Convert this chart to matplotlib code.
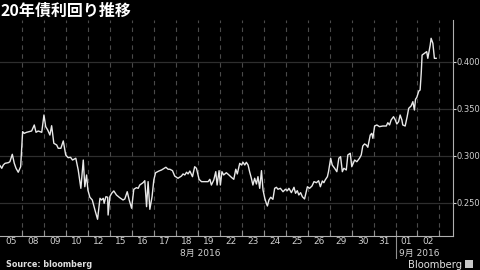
import numpy as np
import matplotlib
matplotlib.use("Agg")
import matplotlib.pyplot as plt
from matplotlib.patches import Rectangle

plt.rcParams['font.family'] = ['DejaVu Sans', 'Noto Sans CJK JP']

# trading days shown on the axis
day_labels = ['05', '08', '09', '10', '12', '15', '16', '17', '18', '19',
              '22', '23', '24', '25', '26', '29', '30', '31', '01', '02']
month_labels = ['8月 2016', '9月 2016']
month_start = [0, 18]

# position in trading days (0 = start of Aug 05) and yield (%)
t = [0.00, 0.08, 0.15, 0.23, 0.38, 0.45, 0.56, 0.65, 0.73, 0.83, 0.94, 1.03, 1.10, 1.21,
     1.44, 1.56, 1.64, 1.74, 1.90, 2.00, 2.08, 2.17, 2.27, 2.35, 2.45, 2.58, 2.65, 2.77,
     2.88, 2.99, 3.10, 3.21, 3.30, 3.45, 3.56, 3.68, 3.79, 3.86, 3.94, 4.00, 4.09, 4.20,
     4.32, 4.44, 4.55, 4.62, 4.70, 4.74, 4.82, 4.90, 4.92, 5.00, 5.08, 5.18, 5.30, 5.45,
     5.60, 5.68, 5.79, 5.88, 5.99, 6.09, 6.21, 6.29, 6.36, 6.51, 6.59, 6.67, 6.74, 6.82,
     6.92, 7.00, 7.08, 7.23, 7.35, 7.55, 7.65, 7.73, 7.85, 7.95, 8.10, 8.26, 8.33, 8.41,
     8.49, 8.56, 8.64, 8.76, 8.86, 8.94, 9.06, 9.17, 9.32, 9.47, 9.55, 9.62, 9.73, 9.82,
     9.88, 9.97, 10.03, 10.10, 10.18, 10.30, 10.42, 10.53, 10.64, 10.73, 10.80, 10.91,
     10.99, 11.06, 11.14, 11.21, 11.29, 11.36, 11.44, 11.51, 11.59, 11.67, 11.74, 11.82,
     11.90, 11.97, 12.05, 12.12, 12.17, 12.24, 12.32, 12.42, 12.50, 12.58, 12.65, 12.76,
     12.88, 12.99, 13.08, 13.15, 13.26, 13.38, 13.45, 13.53, 13.60, 13.68, 13.76, 13.86,
     13.99, 14.09, 14.20, 14.29, 14.40, 14.50, 14.58, 14.67, 14.74, 14.80, 14.90, 14.95,
     15.05, 15.12, 15.23, 15.33, 15.42, 15.50, 15.58, 15.65, 15.76, 15.83, 15.94, 16.01,
     16.14, 16.24, 16.36, 16.44, 16.51, 16.59, 16.67, 16.74, 16.85, 16.92, 16.97, 17.05,
     17.15, 17.27, 17.42, 17.58, 17.65, 17.73, 17.80, 17.91, 17.99, 18.06, 18.14, 18.21,
     18.29, 18.33, 18.44, 18.53, 18.60, 18.71, 18.79, 18.86, 18.91, 18.97, 19.06, 19.12,
     19.17, 19.21, 19.32, 19.42, 19.47, 19.51, 19.58, 19.62, 19.70, 19.77, 19.85]

yld = [0.2897, 0.2869, 0.2904, 0.2922, 0.2929, 0.2939, 0.3018, 0.2922, 0.2869, 0.2827,
       0.2886, 0.3259, 0.3241, 0.3252, 0.3266, 0.3330, 0.3252, 0.3266, 0.3252, 0.3436,
       0.3312, 0.3277, 0.3223, 0.3322, 0.3135, 0.3117, 0.3082, 0.3082, 0.3160, 0.3011,
       0.2982, 0.2986, 0.2957, 0.2976, 0.2851, 0.2656, 0.2957, 0.2673, 0.2798, 0.2638,
       0.2561, 0.2532, 0.2426, 0.2327, 0.2550, 0.2532, 0.2550, 0.2497, 0.2567, 0.2561,
       0.2372, 0.2567, 0.2603, 0.2628, 0.2585, 0.2556, 0.2532, 0.2543, 0.2620, 0.2532,
       0.2444, 0.2646, 0.2663, 0.2656, 0.2691, 0.2716, 0.2737, 0.2461, 0.2727, 0.2433,
       0.2567, 0.2745, 0.2822, 0.2840, 0.2851, 0.2880, 0.2859, 0.2859, 0.2844, 0.2787,
       0.2763, 0.2787, 0.2809, 0.2798, 0.2827, 0.2809, 0.2840, 0.2780, 0.2886, 0.2869,
       0.2752, 0.2727, 0.2727, 0.2727, 0.2752, 0.2691, 0.2745, 0.2833, 0.2691, 0.2844,
       0.2691, 0.2833, 0.2798, 0.2822, 0.2798, 0.2773, 0.2752, 0.2859, 0.2809, 0.2922,
       0.2904, 0.2933, 0.2904, 0.2933, 0.2904, 0.2833, 0.2763, 0.2691, 0.2763, 0.2702,
       0.2780, 0.2656, 0.2844, 0.2638, 0.2550, 0.2497, 0.2468, 0.2532, 0.2561, 0.2539,
       0.2656, 0.2667, 0.2646, 0.2656, 0.2620, 0.2646, 0.2631, 0.2656, 0.2610, 0.2667,
       0.2603, 0.2631, 0.2585, 0.2610, 0.2567, 0.2543, 0.2673, 0.2656, 0.2681, 0.2727,
       0.2716, 0.2737, 0.2673, 0.2734, 0.2716, 0.2745, 0.2780, 0.2833, 0.2976, 0.2904,
       0.2869, 0.2833, 0.2976, 0.2993, 0.2833, 0.2869, 0.2851, 0.3011, 0.3029, 0.2886,
       0.2957, 0.2939, 0.2976, 0.3011, 0.3106, 0.3128, 0.3117, 0.3093, 0.3223, 0.3241,
       0.3188, 0.3319, 0.3330, 0.3312, 0.3319, 0.3319, 0.3354, 0.3330, 0.3383, 0.3418,
       0.3383, 0.3340, 0.3365, 0.3436, 0.3383, 0.3330, 0.3319, 0.3418, 0.3507, 0.3532,
       0.3578, 0.3489, 0.3603, 0.3624, 0.3691, 0.3702, 0.3880, 0.4074, 0.4093, 0.4110,
       0.4039, 0.4093, 0.4181, 0.4252, 0.4199, 0.4039, 0.4039]

y_ticks = [0.250, 0.300, 0.350, 0.400]

fig = plt.figure(figsize=(4.8, 2.7), dpi=100, facecolor='black')
ax = fig.add_axes([0.0, 0.126, 0.943, 0.8])
ax.set_facecolor('black')

ax.plot(t, yld, color='#e8e8e8', lw=1.0)

n_days = len(day_labels)
ax.set_xlim(0, 20.6)
ax.set_ylim(0.2149, 0.4447)

# horizontal grid
for v in y_ticks:
    ax.axhline(v, color='#2e2e2e', lw=0.9, zorder=0)
# vertical dashed day boundaries
for d in range(1, n_days + 1):
    ax.axvline(d, color='#4a4a4a', lw=0.8, ls=(0, (4, 4)), zorder=0)

ax.yaxis.tick_right()
ax.set_yticks(y_ticks)
ax.set_yticklabels([f'{v:.3f}' for v in y_ticks])
ax.tick_params(axis='y', colors='#d0d0d0', labelsize=6, length=2, width=0.8,
               direction='out', pad=1)

ax.set_xticks(range(1, n_days + 1))
ax.set_xticklabels([])
ax.tick_params(axis='x', colors='#909090', length=4, width=0.8, direction='in')

for s in ['top', 'left']:
    ax.spines[s].set_visible(False)
ax.spines['right'].set_color('#b0b0b0')
ax.spines['bottom'].set_color('#b0b0b0')

xt = ax.get_xaxis_transform()
# day labels centred in each day
for i, lab in enumerate(day_labels):
    ax.text(i + 0.5, -0.005, lab, transform=xt,
            ha='center', va='top', color='#d0d0d0', fontsize=6.5)

# month labels
ax.text(9.1, -0.06, month_labels[0], transform=xt,
        ha='center', va='top', color='#d0d0d0', fontsize=6.5)
ax.text(18.15, -0.06, month_labels[1], transform=xt,
        ha='left', va='top', color='#d0d0d0', fontsize=6.5)
ax.plot([month_start[1], month_start[1]], [0, -0.1], transform=xt,
        color='#909090', lw=0.8, clip_on=False)

fig.text(0.002, 0.958, '20年債利回り推移', color='white', fontsize=11.5,
         family=['Noto Sans CJK JP', 'DejaVu Sans'], weight='bold', va='center')
fig.text(0.012, 0.022, 'Source: bloomberg', color='#e0e0e0', fontsize=5.8,
         weight='bold', va='center')
fig.text(0.962, 0.02, 'Bloomberg', color='#e0e0e0', fontsize=7.2,
         ha='right', va='center')
fig.patches.append(Rectangle((0.969, 0.006), 0.016, 0.03, transform=fig.transFigure,
                             facecolor='#c8c8c8', edgecolor='none'))

fig.savefig('out.png', dpi=100, facecolor='black')
